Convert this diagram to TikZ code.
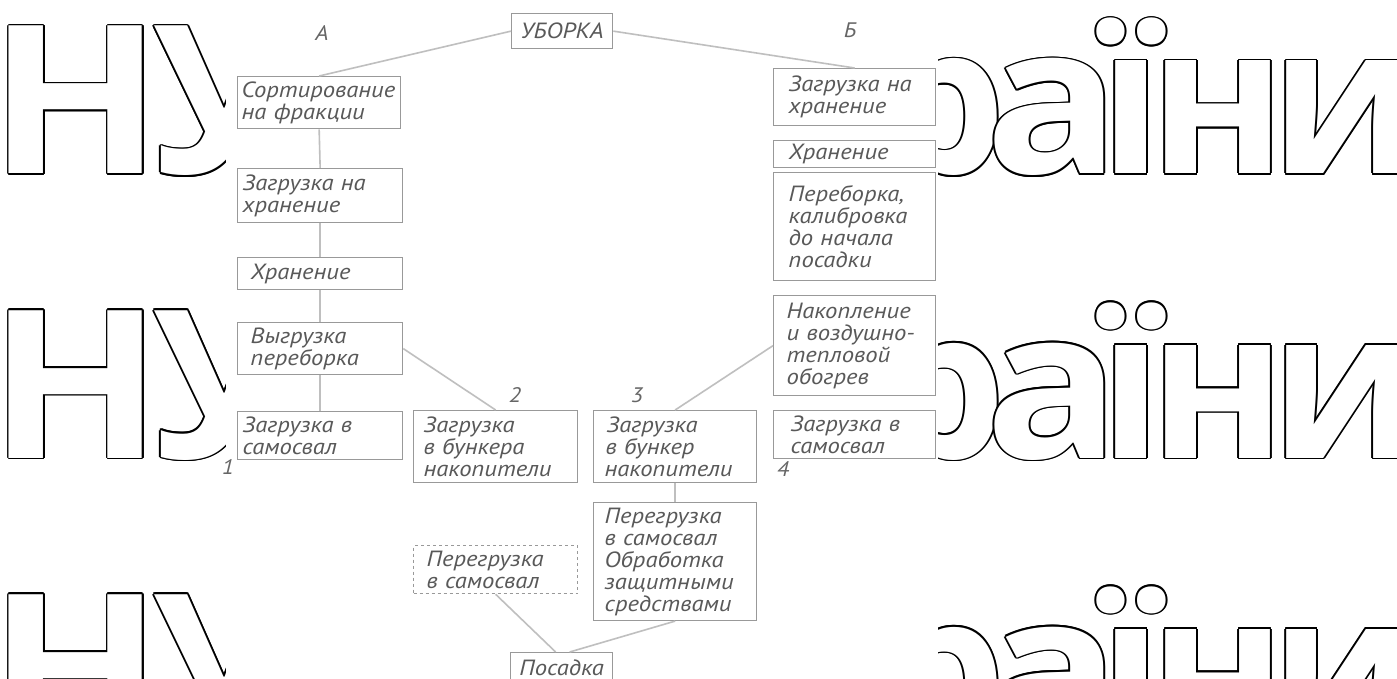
\documentclass[tikz,border=0pt]{standalone}
\usepackage{fontspec}
\setmainfont{PT Sans}[FakeStretch=1.12]
\newfontfamily\wmfont{Open Sans}
\usetikzlibrary{calc}
\newcommand\wmletter[3][1]{%
  \foreach \a in {0,30,...,330}
    \node[wm, text=black] at ($(#2)+(\a:1.6)$) {\scalebox{#1}[1]{#3}};
  \node[wm, text=white] at (#2) {\scalebox{#1}[1]{#3}};}
\begin{document}
\begin{tikzpicture}
  [x=1pt, y=-1pt,
   box/.style={rectangle, draw=black!40, line width=1.3pt, anchor=north west,
     align=left, inner sep=5pt, text=black!65, font=\itshape\fontsize{22}{22}\selectfont},
   lbl/.style={text=black!60, font=\itshape\fontsize{21}{21}\selectfont},
   link/.style={draw=black!25, line width=1.6pt},
   wm/.style={anchor=base, inner sep=0pt, font=\wmfont\bfseries\fontsize{207}{207}\selectfont}]
\useasboundingbox (0,0) rectangle (1397,679); % fix bounding box
% watermark
\begin{scope}
\clip (0,0) rectangle (1397,679);
\foreach \b in {174,458,742} {
  \wmletter[1.1]{76,\b}{Н}
  \wmletter{222,\b}{У}
  \wmletter{941,\b}{р}
  \wmletter[1.08]{1053,\b}{а}
  \wmletter{1131,\b}{ї}
  \wmletter{1218,\b}{н}
  \wmletter{1345,\b}{и}
}
\end{scope}
\fill[white] (226,0) rectangle (938,679);
%
\node at (511,13) (harvest) [box, align=center, text width=91pt, minimum height=35pt] {УБОРКА};
\node at (322,33) (la) [lbl] {А};
\node at (850,30) (lb) [lbl] {Б};
% column A
\node at (237,76)  (sort)   [box, text width=155pt, minimum height=52pt, inner xsep=4pt] {Сортирование\\на фракции};
\node at (237,168) (lstore) [box, text width=155pt, minimum height=54pt] {Загрузка на\\хранение};
\node at (237,257) (lkeep)  [box, text width=155pt, minimum height=32pt] {\hspace*{8pt}Хранение};
\node at (237,322) (lpick)  [box, text width=155pt, minimum height=48pt] {\hspace*{8pt}Выгрузка\\\hspace*{8pt}переборка};
\node at (237,411) (ltruck) [box, text width=155pt, minimum height=44pt] {Загрузка в\\самосвал};
\node at (228,467) (l1) [lbl] {1};
% bunkers
\node at (413,410) (bunk2) [box, text width=154pt, minimum height=72pt] {\hspace*{5pt}Загрузка\\\hspace*{5pt}в бункера\\\hspace*{5pt}накопители};
\node at (593,410) (bunk3) [box, text width=153pt, minimum height=72pt] {\hspace*{8pt}Загрузка\\\hspace*{7pt}в бункер\\\hspace*{6pt}накопители};
\node at (515,395) (l2) [lbl] {2};
\node at (637,395) (l3) [lbl] {3};
% column B
\node at (773,68)  (rstore) [box, text width=152pt, minimum height=57pt] {\hspace*{10pt}Загрузка на\\\hspace*{10pt}хранение};
\node at (773,140) (rkeep)  [box, text width=152pt, minimum height=27pt, inner ysep=1pt] {\hspace*{10pt}Хранение};
\node at (773,172) (rcal)   [box, text width=152pt, minimum height=108pt] {\hspace*{10pt}Переборка,\\\hspace*{10pt}калибровка\\\hspace*{10pt}до начала\\\hspace*{10pt}посадки};
\node at (773,295) (rheat)  [box, text width=152pt, minimum height=100pt] {\hspace*{8pt}Накопление\\\hspace*{8pt}и воздушно-\\\hspace*{8pt}тепловой\\\hspace*{8pt}обогрев};
\node at (773,410) (rtruck) [box, text width=152pt, minimum height=45pt] {\hspace*{12pt}Загрузка в\\\hspace*{12pt}самосвал};
\node at (783,469) (l4) [lbl] {4};
% bottom
\node at (413,545) (ltrans) [box, dashed, text width=154pt, minimum height=48pt] {\hspace*{8pt}Перегрузка\\\hspace*{8pt}в самосвал};
\node at (593,502) (rtrans) [box, text width=153pt, minimum height=108pt] {\hspace*{6pt}Перегрузка\\\hspace*{6pt}в самосвал\\\hspace*{6pt}Обработка\\\hspace*{6pt}защитными\\\hspace*{6pt}средствами};
\node at (510,652) (plant)  [box, align=center, text width=92pt, minimum height=30pt, inner ysep=2pt] {Посадка};
%
\draw [link] (harvest.west) -- (sort.north);
\draw [link] (harvest.east) -- (rstore.north);
\draw [link] (sort.south)   -- (lstore.north);
\draw [link] (lstore.south) -- (lkeep.north);
\draw [link] (lkeep.south)  -- (lpick.north);
\draw [link] (lpick.south)  -- (ltruck.north);
\draw [link] (lpick.east)   -- (bunk2.north);
\draw [link] (rheat.west)   -- (bunk3.north);
\draw [link] (bunk3.south)  -- (rtrans.north);
\draw [link] (ltrans.south) -- ([xshift=-6pt]plant.north);
\draw [link] (rtrans.south) -- ([xshift=8pt]plant.north);
\end{tikzpicture}
\end{document}
